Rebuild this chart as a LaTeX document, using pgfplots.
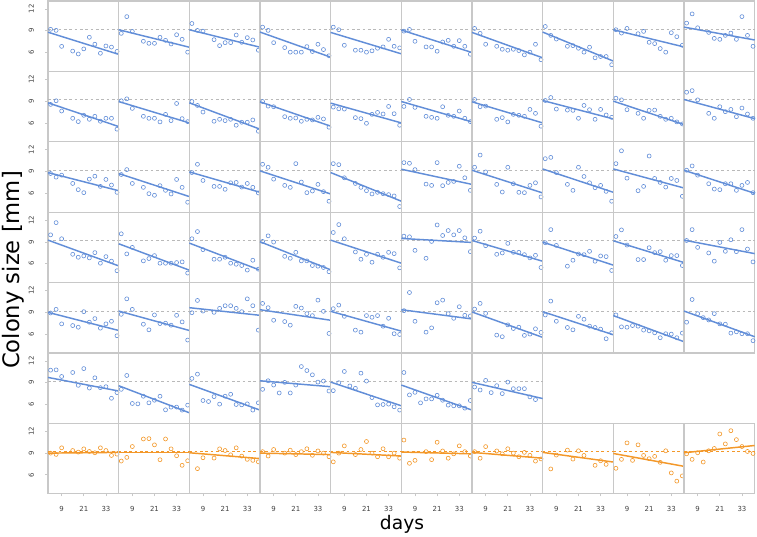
\documentclass[border=0pt]{standalone}
\usepackage{fontspec}
\setmainfont{DejaVu Sans}
\usepackage{pgfplots}
\pgfplotsset{compat=1.18}
\usepgfplotslibrary{groupplots}
\definecolor{bl}{RGB}{98,142,216}
\definecolor{orc}{RGB}{243,152,42}
\definecolor{frm}{RGB}{200,200,200}
\definecolor{refg}{RGB}{185,185,185}
\pgfplotsset{
  bpts/.style={only marks, mark=o, mark size=1.5pt, bl, mark options={line width=0.45pt}},
  bfit/.style={bl, line width=1.1pt, no marks},
  bref/.style={refg, dashed, dash pattern=on 2pt off 2pt, line width=0.5pt, no marks},
  opts/.style={only marks, mark=o, mark size=1.5pt, orc, mark options={line width=0.45pt}},
  ofit/.style={orc, line width=1.1pt, no marks},
  oref/.style={orc, dashed, dash pattern=on 2pt off 2pt, line width=0.5pt, no marks},
  fc/.style={ytick={6,9,12}},
  br/.style={xtick={9,21,33}},
}
\newcommand{\bp}[4]{%
  \nextgroupplot[#1]
  \addplot[bref] coordinates {(1.6,9.2) (39.9,9.2)};
  \addplot[bfit] coordinates {(1.6,#3) (39.9,#4)};
  \addplot[bpts] coordinates {#2};
}
\newcommand{\op}[4]{%
  \nextgroupplot[#1]
  \addplot[oref] coordinates {(1.6,9.2) (39.9,9.2)};
  \addplot[ofit] coordinates {(1.6,#3) (39.9,#4)};
  \addplot[opts] coordinates {#2};
}
\begin{document}
\begin{tikzpicture}
\begin{groupplot}[
  group style={group size=10 by 7, horizontal sep=0pt, vertical sep=0pt},
  width=53pt, height=52.8pt, scale only axis,
  xmin=1.6, xmax=39.9, ymin=3.4, ymax=13.1,
  xtick=\empty, ytick=\empty,
  axis line style={frm, line width=0.9pt},
  tick style={frm, line width=0.6pt},
  major tick length=2pt, tick align=outside, tick pos=left,
  clip=false,
  /pgf/number format/assume math mode=true,
  ticklabel style={font=\fontsize{5.2}{6}\selectfont, text=black!75},
  yticklabel style={rotate=90, anchor=south},
  yticklabel shift=5pt,
  xticklabel shift=4pt,
]
% ---------- row 1
\bp{fc}{(3,9.2)(6,9.05)(9,6.85)(15,6.2)(18,5.8)(21,6.5)(24,8.1)(27,7.15)(30,5.9)(33,6.9)(36,6.75)(39,6.15)}{8.8}{5.75}
\coordinate (TL) at (rel axis cs:0,1);
\bp{}{(3,8.64)(6,10.95)(9,8.9)(15,7.55)(18,7.27)(21,7.27)(24,8.1)(27,7.68)(30,7.18)(33,8.45)(36,7.82)(39,6.05)}{9.14}{6.73}
\bp{}{(3,10.0)(6,9.05)(9,8.95)(15,7.77)(18,6.95)(21,7.36)(24,7.36)(27,8.41)(30,7.41)(33,8.05)(36,7.73)(39,6.32)}{9.14}{6.73}
\bp{}{(3,9.5)(6,9.05)(9,7.36)(15,6.68)(18,6.05)(21,6.05)(24,6.05)(27,6.82)(30,6.14)(33,7.14)(36,6.41)(39,5.55)}{8.82}{5.36}
\bp{}{(3,9.5)(6,9.14)(9,7.0)(15,6.32)(18,6.32)(21,6.05)(24,6.23)(27,6.59)(30,6.77)(33,7.82)(36,6.86)(39,6.64)}{8.77}{5.82}
\bp{}{(3,8.95)(6,9.18)(9,7.55)(15,6.77)(18,6.77)(21,6.18)(24,7.45)(27,7.68)(30,6.86)(33,7.64)(36,6.86)(39,5.77)}{9.1}{6.0}
\bp{}{(3,9.32)(6,8.64)(9,7.14)(15,6.86)(18,6.45)(21,6.32)(24,6.45)(27,6.27)(30,5.68)(33,6.05)(36,7.14)(39,5.0)}{8.77}{5.27}
\bp{}{(3,9.59)(6,8.36)(9,7.86)(15,6.86)(18,6.95)(21,6.59)(24,6.05)(27,6.73)(30,5.27)(33,5.45)(36,5.45)(39,4.32)}{8.82}{4.82}
\bp{}{(3,9.14)(6,8.68)(9,9.32)(15,8.59)(18,8.91)(21,7.41)(24,7.23)(27,6.55)(30,6.05)(33,8.73)(36,8.18)(39,7.0)}{9.14}{6.77}
\bp{}{(3,10.05)(6,11.32)(9,9.41)(15,8.77)(18,7.95)(21,7.82)(24,8.36)(27,8.68)(30,7.82)(33,10.95)(36,8.36)(39,6.86)}{9.5}{7.73}
% ---------- row 2
\bp{fc}{(3,8.55)(6,9.05)(9,7.64)(15,6.64)(18,6.18)(21,7.05)(24,6.5)(27,6.91)(30,6.23)(33,6.64)(36,6.64)(39,5.14)}{8.77}{5.5}
\bp{}{(3,9.05)(6,9.32)(9,8.0)(15,6.91)(18,6.64)(21,6.64)(24,6.14)(27,7.18)(30,6.32)(33,8.68)(36,6.59)(39,6.18)}{8.95}{6.0}
\bp{}{(3,8.95)(6,8.41)(9,7.5)(15,6.23)(18,6.5)(21,6.32)(24,6.5)(27,5.68)(30,6.09)(33,6.09)(36,6.41)(39,4.86)}{8.77}{5.14}
\bp{}{(3,8.95)(6,8.32)(9,8.23)(15,6.86)(18,6.64)(21,6.68)(24,6.23)(27,6.5)(30,6.41)(33,6.77)(36,6.55)(39,5.41)}{8.91}{5.55}
\bp{}{(3,8.18)(6,7.95)(9,7.91)(15,6.73)(18,6.59)(21,5.95)(24,7.18)(27,7.45)(30,7.23)(33,8.27)(36,7.27)(39,5.68)}{8.73}{6.0}
\bp{}{(3,8.27)(6,9.23)(9,8.14)(15,6.91)(18,6.77)(21,6.64)(24,8.23)(27,7.05)(30,6.91)(33,7.64)(36,6.64)(39,6.18)}{8.95}{6.14}
\bp{}{(3,9.23)(6,8.23)(9,8.32)(15,6.5)(18,6.73)(21,6.14)(24,7.18)(27,7.05)(30,6.91)(33,7.86)(36,7.32)(39,5.55)}{8.91}{6.0}
\bp{}{(3,9.09)(6,9.5)(9,7.91)(15,7.77)(18,7.73)(21,6.64)(24,8.41)(27,7.82)(30,6.5)(33,7.86)(36,7.09)(39,6.77)}{9.09}{6.55}
\bp{}{(3,9.41)(6,9.18)(9,7.82)(15,7.32)(18,6.64)(21,7.73)(24,7.77)(27,6.91)(30,6.5)(33,6.64)(36,6.14)(39,5.86)}{9.0}{5.77}
\bp{}{(3,10.23)(6,10.45)(9,9.18)(15,7.32)(18,6.64)(21,8.23)(24,7.55)(27,7.86)(30,6.86)(33,8.05)(36,7.23)(39,6.64)}{9.23}{6.59}
% ---------- row 3
\bp{fc}{(3,8.73)(6,8.23)(9,8.5)(15,7.36)(18,6.5)(21,6.09)(24,7.95)(27,8.36)(30,6.95)(33,7.91)(36,7.14)(39,6.14)}{8.86}{6.36}
\bp{}{(3,8.59)(6,9.27)(9,7.36)(15,6.82)(18,5.95)(21,5.73)(24,7.05)(27,6.41)(30,5.91)(33,7.91)(36,6.82)(39,4.77)}{8.73}{5.55}
\bp{}{(3,8.86)(6,10.0)(9,7.77)(15,6.95)(18,6.95)(21,6.55)(24,7.45)(27,7.5)(30,6.86)(33,7.36)(36,6.82)(39,6.05)}{8.95}{6.14}
\bp{}{(3,10.0)(6,9.59)(9,7.95)(15,7.09)(18,6.82)(21,10.09)(24,7.55)(27,6.09)(30,6.32)(33,7.23)(36,6.23)(39,4.91)}{9.09}{5.91}
\bp{}{(3,10.09)(6,9.95)(9,8.14)(15,7.36)(18,6.82)(21,6.36)(24,5.91)(27,6.14)(30,5.95)(33,5.82)(36,5.64)(39,4.18)}{8.86}{4.91}
\bp{}{(3,10.23)(6,10.14)(9,9.27)(15,7.27)(18,7.09)(21,10.23)(24,7.05)(27,7.5)(30,7.64)(33,9.73)(36,8.14)(39,6.41)}{9.32}{7.23}
\bp{}{(3,9.59)(6,11.27)(9,8.95)(15,7.23)(18,6.18)(21,9.59)(24,7.32)(27,6.14)(30,6.09)(33,7.09)(36,7.45)(39,5.5)}{9.18}{6.05}
\bp{}{(3,10.77)(6,10.95)(9,8.86)(15,7.23)(18,6.41)(21,9.59)(24,8.32)(27,7.45)(30,6.77)(33,7.09)(36,6.27)(39,4.91)}{9.36}{6.14}
\bp{}{(3,10.09)(6,11.86)(9,8.09)(15,6.36)(18,6.95)(21,11.14)(24,8.05)(27,7.5)(30,6.86)(33,8.05)(36,7.77)(39,5.59)}{9.36}{6.73}
\bp{}{(3,9.18)(6,9.77)(9,8.5)(15,7.32)(18,6.59)(21,6.5)(24,7.32)(27,7.32)(30,6.41)(33,7.09)(36,7.5)(39,6.09)}{9.18}{6.0}
% ---------- row 4
\bp{fc}{(3,9.98)(6,11.66)(9,9.44)(15,7.3)(18,6.89)(21,7.07)(24,6.8)(27,7.53)(30,6.07)(33,6.98)(36,6.35)(39,5.03)}{9.25}{5.7}
\bp{}{(3,10.12)(6,7.35)(9,8.25)(15,6.39)(18,6.71)(21,7.12)(24,6.07)(27,6.07)(30,6.07)(33,6.16)(36,6.25)(39,4.71)}{8.75}{5.11}
\bp{}{(3,9.44)(6,10.43)(9,7.94)(15,6.62)(18,6.62)(21,6.89)(24,6.07)(27,5.93)(30,5.75)(33,5.12)(36,6.48)(39,5.25)}{8.84}{5.11}
\bp{}{(3,9.07)(6,9.84)(9,8.98)(15,7.02)(18,6.75)(21,7.57)(24,6.39)(27,6.39)(30,5.75)(33,5.66)(36,5.48)(39,4.89)}{9.03}{5.16}
\bp{}{(3,10.3)(6,11.39)(9,9.44)(15,7.62)(18,6.62)(21,7.3)(24,6.21)(27,7.3)(30,6.89)(33,7.57)(36,7.39)(39,5.43)}{9.25}{6.07}
\bp{}{(3,9.8)(6,9.71)(9,7.84)(15,6.75)(18,9.07)(21,11.34)(24,9.89)(27,10.57)(30,9.98)(33,10.57)(36,9.57)(39,7.66)}{9.48}{8.93}
\bp{}{(3,9.53)(6,10.48)(9,8.48)(15,7.3)(18,7.48)(21,8.8)(24,7.57)(27,7.57)(30,7.25)(33,6.8)(36,7.16)(39,5.48)}{9.2}{6.34}
\bp{}{(3,8.89)(6,10.7)(9,8.52)(15,5.66)(18,6.48)(21,7.34)(24,7.25)(27,7.71)(30,6.34)(33,7.07)(36,6.98)(39,5.07)}{8.98}{5.8}
\bp{}{(3,9.75)(6,10.66)(9,8.57)(15,6.57)(18,6.57)(21,8.2)(24,7.53)(27,7.66)(30,6.48)(33,7.12)(36,7.12)(39,5.75)}{9.16}{6.16}
\bp{}{(3,9.2)(6,10.7)(9,8.25)(15,7.48)(18,6.35)(21,8.93)(24,7.71)(27,9.3)(30,7.66)(33,10.7)(36,8.02)(39,6.25)}{9.25}{7.39}
% ---------- row 5
\bp{fc}{(3,8.91)(6,9.41)(9,7.41)(15,7.18)(18,6.95)(21,9.09)(24,7.64)(27,8.14)(30,6.82)(33,7.41)(36,7.77)(39,5.77)}{9.0}{6.5}
\bp{}{(3,8.73)(6,10.86)(9,9.41)(15,7.36)(18,6.59)(21,8.64)(24,7.45)(27,7.5)(30,7.23)(33,8.59)(36,7.68)(39,5.18)}{9.18}{6.5}
\bp{}{(3,8.95)(6,10.64)(9,9.18)(15,9.0)(18,9.55)(21,9.91)(24,9.91)(27,9.55)(30,9.09)(33,10.86)(36,9.91)(39,6.55)}{9.64}{8.59}
\bp{}{(3,10.23)(6,9.64)(9,7.91)(15,7.73)(18,7.23)(21,9.82)(24,9.59)(27,8.82)(30,8.55)(33,10.68)(36,9.14)(39,6.09)}{9.36}{7.91}
\bp{}{(3,9.5)(6,10.0)(9,8.45)(15,6.55)(18,6.27)(21,8.55)(24,8.32)(27,8.55)(30,7.09)(33,8.18)(36,6.05)(39,5.95)}{9.14}{6.41}
\bp{}{(3,9.23)(6,11.73)(9,7.77)(15,6.27)(18,6.86)(21,10.32)(24,10.68)(27,8.82)(30,8.18)(33,9.77)(36,8.59)(39,8.5)}{9.36}{8.09}
\bp{}{(3,9.45)(6,10.23)(9,8.86)(15,5.86)(18,5.64)(21,7.27)(24,6.77)(27,6.95)(30,5.82)(33,6.0)(36,6.73)(39,6.23)}{9.05}{5.55}
\bp{}{(3,8.64)(6,10.55)(9,7.77)(15,6.91)(18,6.59)(21,8.45)(24,8.05)(27,7.09)(30,6.91)(33,6.68)(36,5.36)(39,6.18)}{9.09}{5.91}
\bp{}{(3,8.64)(6,7.0)(9,6.95)(12,7.18)(15,7.09)(18,6.55)(21,6.45)(24,6.18)(27,5.5)(30,6.05)(33,6.0)(36,5.5)(39,6.14)}{8.55}{4.95}
\bp{}{(3,7.64)(6,10.77)(9,8.82)(12,8.27)(15,7.95)(18,8.82)(21,7.41)(24,7.36)(27,6.14)(30,6.32)(33,6.05)(36,6.05)(39,5.09)}{9.18}{5.64}
% ---------- row 6
\bp{fc}{(3,10.73)(6,10.77)(9,9.86)(15,10.41)(18,8.64)(21,10.95)(24,8.27)(27,9.68)(30,8.32)(33,8.45)(36,6.86)(39,7.64)}{9.73}{7.86}
\bp{}{(3,8.09)(6,10.0)(9,6.14)(12,6.09)(15,7.14)(18,6.23)(21,6.59)(24,7.14)(27,5.27)(30,5.64)(33,5.64)(36,5.23)(39,5.91)}{8.59}{4.86}
\bp{}{(3,9.59)(6,10.18)(9,6.55)(12,6.41)(15,7.09)(18,6.05)(21,7.14)(24,7.41)(27,6.0)(30,5.95)(33,6.09)(36,5.23)(39,6.23)}{8.77}{5.23}
\bp{}{(3,8.09)(6,9.27)(9,8.68)(12,7.59)(15,9.05)(18,7.59)(21,8.68)(24,11.23)(27,10.68)(30,10.09)(33,9.09)(36,9.23)(39,7.86)}{9.27}{8.45}
\bp{}{(3,7.91)(6,9.0)(9,10.55)(12,8.55)(15,8.23)(18,10.32)(21,9.23)(24,6.95)(27,5.95)(30,6.0)(33,6.05)(36,5.68)(39,5.23)}{9.09}{5.82}
\bp{}{(3,10.41)(6,7.32)(9,7.68)(12,6.23)(15,6.77)(18,6.77)(21,7.27)(24,6.59)(27,5.91)(30,5.82)(33,5.82)(36,5.5)(39,6.55)}{8.68}{5.23}
\bp{}{(3,8.41)(6,8.0)(9,9.32)(12,7.64)(15,8.59)(18,7.5)(21,9.09)(24,8.18)(27,8.18)(30,8.18)(33,7.05)(36,6.68)}{9.05}{6.82}
\nextgroupplot[group/empty plot]
\nextgroupplot[group/empty plot]
\nextgroupplot[group/empty plot]
% ---------- row 7
\op{fc,br}{(3,9.0)(6,8.82)(9,9.73)(15,9.36)(18,9.14)(21,9.59)(24,9.23)(27,9.05)(30,9.73)(33,9.36)(36,8.68)(39,8.86)}{9.0}{9.1}
\op{br}{(3,7.91)(6,8.41)(9,9.91)(15,10.95)(18,11.0)(21,10.14)(24,8.09)(27,10.95)(30,9.59)(33,8.64)(36,7.32)(39,7.95)}{9.05}{9.05}
\op{br}{(6,6.86)(9,8.36)(15,8.32)(18,9.59)(21,9.36)(24,8.77)(27,9.73)(30,8.59)(33,8.14)(36,8.0)(39,7.8)}{9.05}{8.25}
\op{br}{(3,9.2)(6,8.6)(9,9.5)(15,9.0)(18,9.4)(21,8.8)(24,9.2)(27,9.6)(30,8.7)(33,9.3)(36,9.0)(39,8.5)}{9.0}{8.8}
\op{br}{(3,7.8)(6,9.0)(9,10.0)(15,8.8)(18,9.5)(21,10.6)(24,9.0)(27,8.5)(30,9.6)(33,8.5)(36,9.0)(39,8.3)}{9.1}{8.6}
\op{br}{(3,10.8)(6,7.6)(9,8.0)(15,9.2)(18,8.1)(21,10.5)(24,9.3)(27,8.3)(30,8.9)(33,10.0)(36,9.2)(39,8.6)}{9.15}{8.9}
\op{br}{(3,9.2)(6,8.3)(9,9.9)(15,9.3)(18,8.9)(21,9.6)(24,9.0)(27,8.5)(30,9.1)(33,8.7)(36,7.9)(39,8.2)}{9.1}{8.3}
\op{br}{(6,6.82)(9,8.73)(15,9.41)(18,8.18)(21,9.32)(24,8.68)(30,7.32)(33,7.95)(36,7.45)}{9.1}{7.77}
\op{br}{(3,6.91)(6,8.14)(9,10.41)(12,8.0)(15,10.14)(18,8.68)(21,8.23)(24,8.55)(27,7.73)(30,9.32)(33,6.27)(36,5.14)(39,5.86)}{8.95}{7.18}
\op{br}{(3,8.91)(6,8.14)(9,9.05)(12,7.77)(15,9.32)(18,9.64)(21,11.64)(24,10.27)(27,12.09)(30,10.86)(33,9.91)(36,9.23)(39,8.95)}{9.05}{10.05}
\end{groupplot}
\pgfresetboundingbox
\begin{scope}[shift={(TL)}, x=0.75pt, y=-0.75pt]
\path[use as bounding box] (-48,-1) rectangle (709,535);
\node[rotate=90, font=\fontsize{17}{19}\selectfont] at (-35,269) {Colony size [mm]};
\node[font=\fontsize{14}{16}\selectfont] at (354,523) {days};
\end{scope}
\end{tikzpicture}
\end{document}
